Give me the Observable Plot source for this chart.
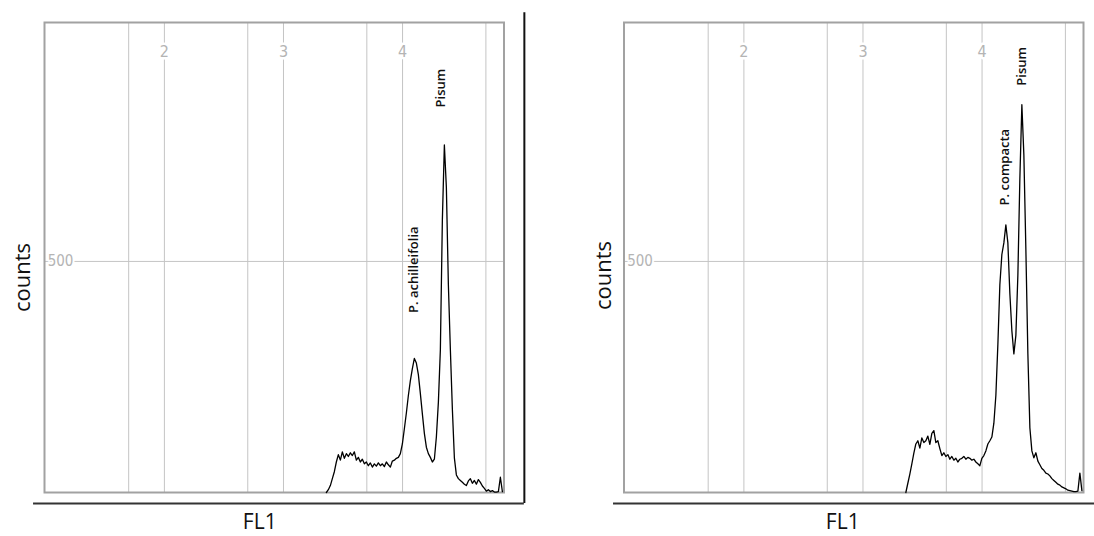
<!DOCTYPE html>
<html>
<head>
<meta charset="utf-8">
<script src="https://cdn.jsdelivr.net/npm/d3@7"></script>
<script src="https://cdn.jsdelivr.net/npm/@observablehq/plot@0.6"></script>
<style>
  html, body { margin: 0; padding: 0; background: #fff; }
  #wrap { position: relative; width: 1094px; height: 536px; overflow: hidden; }
  #left { position: absolute; left: 0; top: 0; }
  #right { position: absolute; left: 580px; top: 0; }
</style>
</head>
<body>
<div id="wrap"><div id="left"></div><div id="right"></div></div>
<script>
// ---- data ----
const xDomain = [0.993, 4.852];          // FL1 (log decades)
const yDomain = [0, 1017];               // counts
const gridX = [1.7, 2, 2.7, 3, 3.7, 4, 4.7];
const tickX = [2, 3, 4];
const gridY = [500];
const fl1Start = 3.36;                   // first histogram channel (decades)
const fl1Step = 0.0168;                  // channel width (decades)

const leftCounts = [
  0, 6, 15, 30, 45, 66, 82, 70, 88, 74,
  84, 78, 86, 80, 88, 70, 76, 66, 72, 62,
  66, 58, 64, 55, 62, 57, 64, 58, 62, 56,
  66, 60, 55, 68, 70, 74, 76, 84, 105, 138,
  172, 210, 242, 268, 290, 280, 255, 214, 170, 128,
  98, 84, 76, 66, 72, 120, 195, 309, 590, 752,
  660, 450, 309, 180, 75, 38, 30, 26, 22, 18,
  15, 25, 30, 20, 26, 18, 28, 22, 14, 9,
  3, 6, 2, 4, 1, 1, 2, 33, 2
];
const rightCounts = [
  0, 20, 40, 62, 85, 105, 112, 96, 118, 108,
  112, 122, 104, 128, 134, 108, 112, 95, 80, 86,
  78, 82, 72, 78, 70, 74, 66, 72, 74, 78,
  72, 76, 74, 70, 72, 66, 62, 58, 74, 80,
  90, 105, 112, 120, 150, 210, 320, 450, 515, 540,
  579, 540, 430, 350, 300, 340, 470, 680, 839, 730,
  526, 300, 140, 90, 75, 86, 68, 60, 52, 48,
  42, 40, 36, 30, 26, 22, 18, 16, 12, 10,
  8, 5, 4, 3, 2, 2, 3, 42, 4
];

const leftLabelText = ["Pisum", "P. achilleifolia"];
const leftLabelX = [4.322, 4.091];
const leftLabelY = [875, 482];
const rightLabelText = ["Pisum", "P. compacta"];
const rightLabelX = [4.335, 4.188];
const rightLabelY = [922, 704];

// decorative outer axis lines (in scale units)
const baseLineY = -23.8;
const leftBaseX = [0.901, 5.023];
const leftSideX = 5.023;
const leftSideY = [-23.8, 1038];
const rightBaseX = [0.905, 5.2];

const tickFont = "'Liberation Sans Narrow', 'DejaVu Sans Condensed', 'Arial Narrow', sans-serif";
const textFont = "'Open Sans', 'Noto Sans', sans-serif";

function panel(o) {
  const series = o.counts.map((c, i) => ({fl1: fl1Start + i * fl1Step, count: c}));
  const labels = o.labelText.map((t, i) => ({t, x: o.labelX[i], y: o.labelY[i]}));
  const marks = [
    Plot.ruleX(gridX, {stroke: "#c4c4c4", strokeWidth: 1}),
    Plot.ruleY(gridY, {stroke: "#c4c4c4", strokeWidth: 1}),
    Plot.frame({stroke: "#a2a2a2", strokeWidth: 2}),
    Plot.text(tickX, {x: d => d, frameAnchor: "top", dy: 29, text: d => String(d),
      textAnchor: "middle", lineAnchor: "middle",
      fill: "#b4b4b4", stroke: "white", strokeWidth: 5, fontSize: 16, fontFamily: tickFont}),
    Plot.text(gridY, {y: d => d, frameAnchor: "left", dx: 16, text: d => String(d),
      textAnchor: "middle", lineAnchor: "middle",
      fill: "#b4b4b4", stroke: "white", strokeWidth: 4, fontSize: 15, fontFamily: tickFont}),
    Plot.line(series, {x: "fl1", y: "count", stroke: "#000", strokeWidth: 1.3}),
    Plot.text(labels, {x: "x", y: "y", text: "t", rotate: -90, fontSize: 13, fontWeight: 600,
      fontFamily: textFont, fill: "#111"}),
    Plot.text(["counts"], {frameAnchor: "left", dx: o.countsDx, dy: o.countsDy, text: d => d,
      textAnchor: "middle", lineAnchor: "middle",
      rotate: -90, fontSize: 22, fontFamily: textFont, fill: "#111"}),
    Plot.text(["FL1"], {frameAnchor: "bottom", dx: o.fl1Dx, dy: 30, text: d => d,
      textAnchor: "middle", lineAnchor: "middle",
      fontSize: 21, fontFamily: textFont, fill: "#111"}),
    Plot.ruleY([baseLineY], {x1: o.baseX[0], x2: o.baseX[1], stroke: "#333", strokeWidth: 2})
  ];
  if (o.sideX != null) {
    marks.push(Plot.ruleX([o.sideX], {y1: leftSideY[0], y2: leftSideY[1], stroke: "#111", strokeWidth: 2}));
  }
  return Plot.plot({
    width: o.width, height: 536,
    marginTop: 22, marginBottom: 44, marginLeft: o.marginLeft, marginRight: o.marginRight,
    x: {domain: xDomain, axis: null},
    y: {domain: yDomain, axis: null},
    style: {background: "white", overflow: "visible"},
    marks
  });
}

document.getElementById("left").appendChild(panel({
  width: 580, marginLeft: 44, marginRight: 76.5,
  counts: leftCounts, labelText: leftLabelText, labelX: leftLabelX, labelY: leftLabelY,
  countsDx: -22, countsDy: 20, fl1Dx: -14.5, baseX: leftBaseX, sideX: leftSideX
}));
document.getElementById("right").appendChild(panel({
  width: 514, marginLeft: 43.5, marginRight: 11,
  counts: rightCounts, labelText: rightLabelText, labelX: rightLabelX, labelY: rightLabelY,
  countsDx: -20, countsDy: 18, fl1Dx: -11, baseX: rightBaseX, sideX: null
}));
</script>
</body>
</html>
